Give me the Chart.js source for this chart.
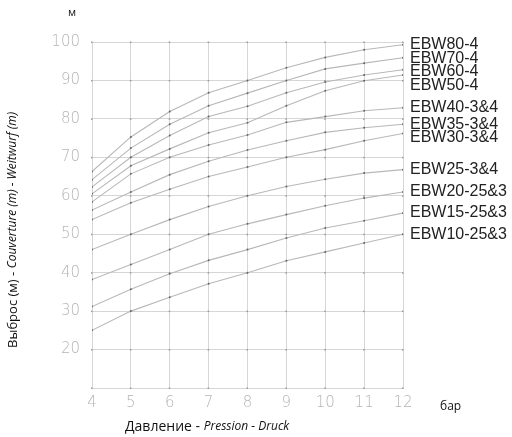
<!DOCTYPE html>
<html>
<head>
<meta charset="utf-8">
<script src="https://cdn.jsdelivr.net/npm/chart.js@4"></script>
<style>
  html, body { margin: 0; padding: 0; background: #fff; }
  #wrap { position: relative; width: 512px; height: 437px; }
</style>
</head>
<body>
<div id="wrap"><canvas id="chart" width="512" height="437"></canvas></div>
<script>
// pressure, bar
var pressure = [4, 5, 6, 7, 8, 9, 10, 11, 12];

// throw distance, m
var ebw80 = [66.3, 75.3, 81.9, 86.8, 90.0, 93.3, 96.0, 98.0, 99.3];
var ebw70 = [64.2, 72.4, 78.6, 83.4, 86.7, 90.0, 93.0, 94.5, 95.9];
var ebw60 = [62.3, 70.0, 75.7, 80.6, 83.3, 86.8, 89.6, 91.4, 92.8];
var ebw50 = [60.5, 67.8, 72.2, 76.4, 79.0, 83.4, 87.3, 89.9, 91.4];
var ebw40 = [58.4, 65.7, 70.0, 73.2, 75.8, 79.1, 80.6, 82.1, 82.9];
var ebw35 = [56.3, 61.0, 65.5, 69.0, 71.9, 74.3, 76.5, 77.7, 78.6];
var ebw30 = [53.8, 58.2, 61.7, 65.0, 67.5, 70.0, 72.0, 74.3, 76.2];
var ebw25 = [46.0, 50.0, 53.8, 57.2, 60.0, 62.4, 64.3, 65.9, 66.8];
var ebw20 = [38.2, 42.1, 46.0, 50.0, 52.7, 55.1, 57.4, 59.4, 61.0];
var ebw15 = [31.2, 35.7, 39.7, 43.2, 46.0, 49.0, 51.6, 53.5, 55.5];
var ebw10 = [25.0, 30.0, 33.6, 37.1, 40.0, 43.1, 45.4, 47.7, 50.0];

var seriesNames = ['EBW80-4', 'EBW70-4', 'EBW60-4', 'EBW50-4', 'EBW40-3&4', 'EBW35-3&4',
                   'EBW30-3&4', 'EBW25-3&4', 'EBW20-25&3', 'EBW15-25&3', 'EBW10-25&3'];
var seriesValues = [ebw80, ebw70, ebw60, ebw50, ebw40, ebw35, ebw30, ebw25, ebw20, ebw15, ebw10];

var yMin = 10, yMax = 100, yStep = 10;

var datasets = seriesValues.map(function (vals, i) {
    return {
        label: seriesNames[i],
        data: vals.map(function (v, j) { return { x: pressure[j], y: v }; }),
        borderColor: '#b8b8b8',
        borderWidth: 1.1,
        pointRadius: 1,
        pointBackgroundColor: '#666',
        pointBorderWidth: 0,
        tension: 0
    };
});

// small marks on grid crossings
var gridDots = {
    id: 'gridDots',
    beforeDatasetsDraw: function (chart) {
        var ctx = chart.ctx, xs = chart.scales.x, ys = chart.scales.y;
        ctx.save();
        ctx.fillStyle = '#9a9a9a';
        pressure.forEach(function (p) {
            for (var v = yMin; v <= yMax; v += yStep) {
                ctx.fillRect(xs.getPixelForValue(p) - 1, ys.getPixelForValue(v) - 0.5, 1.5, 1.5);
            }
        });
        ctx.restore();
    }
};

// names at line ends, spread apart so they don't overlap
var endLabels = {
    id: 'endLabels',
    afterDatasetsDraw: function (chart) {
        var ctx = chart.ctx;
        ctx.save();
        ctx.font = '16px "Liberation Sans", Arial, sans-serif';
        ctx.fillStyle = '#222';
        ctx.textBaseline = 'middle';
        var prev = -100;
        chart.data.datasets.forEach(function (ds, i) {
            var pts = chart.getDatasetMeta(i).data;
            var last = pts[pts.length - 1];
            var y = Math.max(last.y, prev + 13.5);
            prev = y;
            ctx.fillText(ds.label, last.x + 7, y);
        });
        ctx.restore();
    }
};

// axis titles with mixed upright / italic parts
function drawParts(ctx, parts, x, y) {
    parts.forEach(function (p) {
        ctx.font = p.font;
        ctx.fillText(p.text, x, y);
        x += ctx.measureText(p.text).width;
    });
}

var titles = {
    id: 'titles',
    afterDraw: function (chart) {
        var ctx = chart.ctx;
        ctx.save();
        ctx.fillStyle = '#111';
        ctx.textBaseline = 'middle';
        ctx.textAlign = 'left';
        drawParts(ctx, [
            { text: 'Давление - ', font: '14px "Open Sans", sans-serif' },
            { text: 'Pression - Druck', font: 'italic 12px "Open Sans", sans-serif' }
        ], 125, 427);

        ctx.save();
        ctx.translate(13, 348);
        ctx.rotate(-Math.PI / 2);
        drawParts(ctx, [
            { text: 'Выброс (м) - ', font: '13px "Open Sans", sans-serif' },
            { text: 'Couverture (m) - Weitwurf (m)', font: 'italic 12px "Open Sans", sans-serif' }
        ], 0, 0);
        ctx.restore();

        ctx.font = '12px "Open Sans", sans-serif';
        ctx.fillText('бар', 440, 407);
        ctx.font = '11px "Open Sans", sans-serif';
        ctx.fillText('м', 68, 13);
        ctx.restore();
    }
};

var tickFont = { family: '"DejaVu Sans", sans-serif', size: 15, weight: '200' };

new Chart(document.getElementById('chart').getContext('2d'), {
    type: 'line',
    data: { datasets: datasets },
    options: {
        responsive: false,
        animation: false,
        layout: { padding: { left: 0, right: 109, top: 42, bottom: 0 } },
        plugins: { legend: { display: false }, tooltip: { enabled: false } },
        scales: {
            x: {
                type: 'linear',
                min: pressure[0],
                max: pressure[pressure.length - 1],
                ticks: { stepSize: 1, color: '#b4b4b4', font: tickFont, padding: 6 },
                grid: { color: '#d6d6d6', lineWidth: 1, drawTicks: false },
                border: { color: '#d6d6d6' },
                afterFit: function (s) { s.height = 49; }
            },
            y: {
                min: yMin,
                max: yMax,
                ticks: {
                    stepSize: yStep,
                    color: '#b4b4b4',
                    font: tickFont,
                    padding: 12,
                    callback: function (v) { return v === yMin ? '' : v; }
                },
                grid: { color: '#d6d6d6', lineWidth: 1, drawTicks: false },
                border: { color: '#d6d6d6' },
                afterFit: function (s) { s.width = 92; }
            }
        }
    },
    plugins: [gridDots, endLabels, titles]
});
</script>
</body>
</html>
